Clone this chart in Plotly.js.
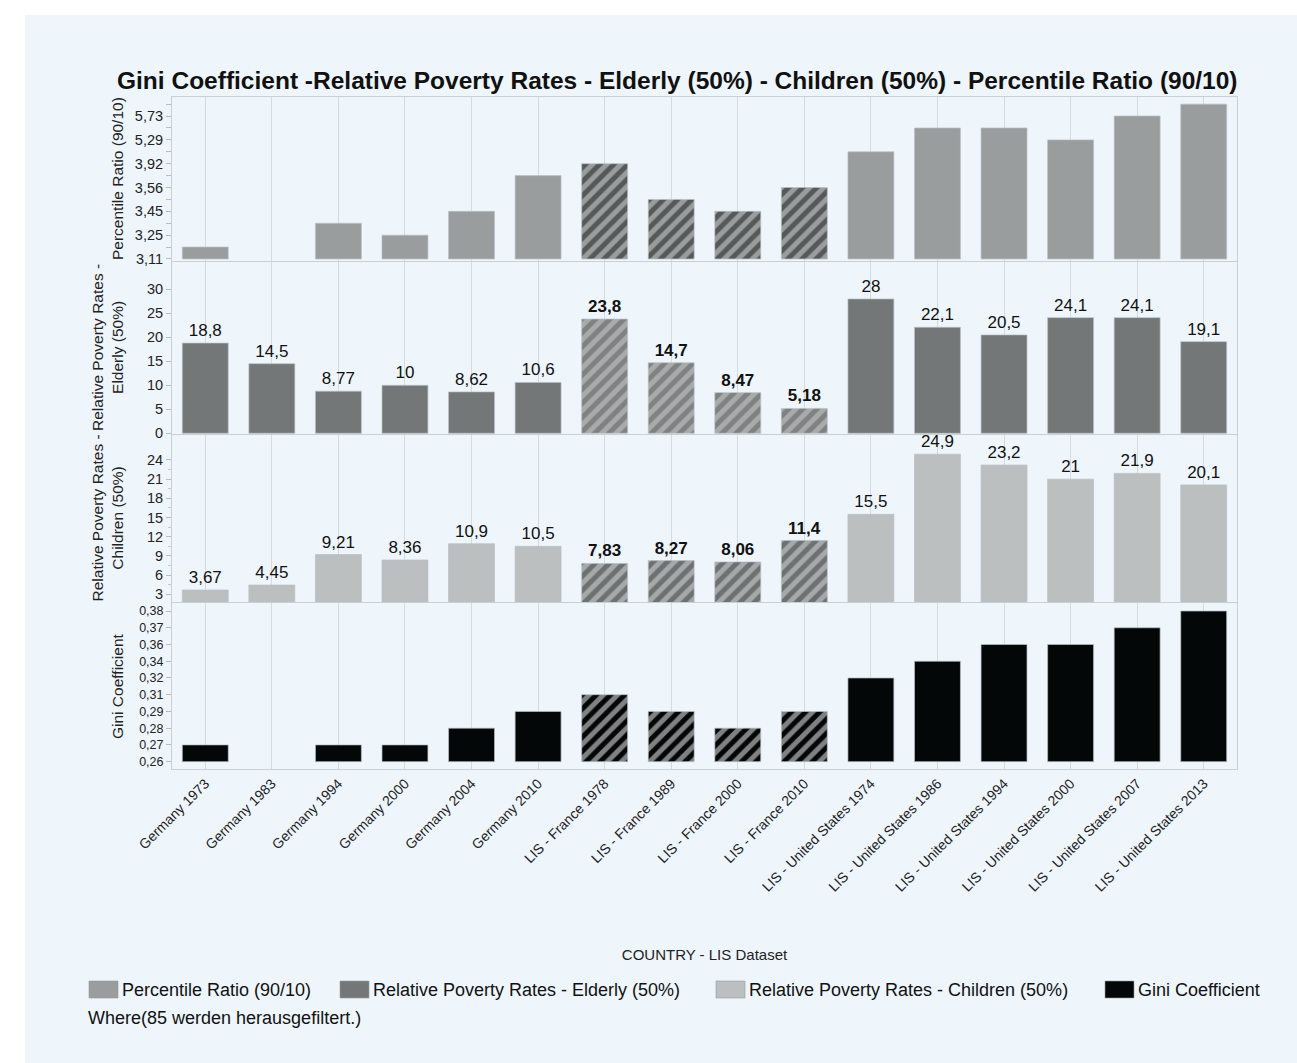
<!DOCTYPE html>
<html>
<head>
<meta charset="utf-8">
<script src="https://cdn.plot.ly/plotly-3.0.1.min.js"></script>
<style>
  html, body { margin: 0; padding: 0; background: #ffffff; }
  #chart { width: 1297px; height: 1063px; }
</style>
</head>
<body>
<div id="chart"></div>
<script>
// ---------------- DATA ----------------
const categories = [
  "Germany 1973", "Germany 1983", "Germany 1994", "Germany 2000", "Germany 2004", "Germany 2010",
  "LIS - France 1978", "LIS - France 1989", "LIS - France 2000", "LIS - France 2010",
  "LIS - United States 1974", "LIS - United States 1986", "LIS - United States 1994",
  "LIS - United States 2000", "LIS - United States 2007", "LIS - United States 2013"
];

// Percentile Ratio (90/10) — drawn on an ordinal (rank) value axis, like the source
const ratio9010 = [3.18, 3.11, 3.35, 3.25, 3.45, 3.75, 3.92, 3.50, 3.45, 3.56, 4.60, 5.50, 5.50, 5.29, 5.73, 6.04];
const ratioLevels = [3.11, 3.18, 3.25, 3.35, 3.45, 3.50, 3.56, 3.75, 3.92, 4.60, 5.29, 5.50, 5.73, 6.04];
const ratioTickText = ["3,11", "", "3,25", "", "3,45", "", "3,56", "", "3,92", "", "5,29", "", "5,73", ""];

// Relative Poverty Rates - Elderly (50%)
const elderly = [18.8, 14.5, 8.77, 10, 8.62, 10.6, 23.8, 14.7, 8.47, 5.18, 28, 22.1, 20.5, 24.1, 24.1, 19.1];
const elderlyTicks = [0, 5, 10, 15, 20, 25, 30];

// Relative Poverty Rates - Children (50%)
const children = [3.67, 4.45, 9.21, 8.36, 10.9, 10.5, 7.83, 8.27, 8.06, 11.4, 15.5, 24.9, 23.2, 21, 21.9, 20.1];
const childrenTicks = [3, 6, 9, 12, 15, 18, 21, 24];

// Gini Coefficient — ordinal value axis
const gini = [0.27, 0.26, 0.27, 0.27, 0.28, 0.29, 0.31, 0.29, 0.28, 0.29, 0.32, 0.34, 0.36, 0.36, 0.37, 0.38];
const giniLevels = [0.26, 0.27, 0.28, 0.29, 0.31, 0.32, 0.34, 0.36, 0.37, 0.38];
const giniTickText = ["0,26", "0,27", "0,28", "0,29", "0,31", "0,32", "0,34", "0,36", "0,37", "0,38"];

const seriesNames = [
  "Percentile Ratio (90/10)",
  "Relative Poverty Rates - Elderly (50%)",
  "Relative Poverty Rates - Children (50%)",
  "Gini Coefficient"
];

// ---------------- STYLE ----------------
const FONT = "Liberation Sans, Arial, Helvetica, sans-serif";
const solidColors = ["#9a9d9e", "#737777", "#bbbfc0", "#040707"];
const hatchBg = ["#9a9d9e", "#a9abab", "#a6a9aa", "#040707"];
const hatchFg = ["#55595a", "#7f8282", "#6e7172", "#7f8182"];
const isHatched = categories.map(c => c.indexOf("France") !== -1);

const W = 1297, H = 1063;
const ML = 172, MR = 60, MT = 97, MB = 294;
const PW = W - ML - MR, PH = H - MT - MB;
const px2x = p => (p - ML) / PW;
const px2y = p => (H - MB - p) / PH;

const fmt = v => String(v).replace(".", ",");
const rank = (levels, v) => levels.indexOf(v);

// one trace for the solid bars, one for the hatched (France) bars of each panel
function panelTraces(k, yvals, yaxis, rawVals, withLabels) {
  const out = [];
  [false, true].forEach(hatched => {
    const idx = categories.map((c, i) => i).filter(i => isHatched[i] === hatched);
    const ys = idx.map(i => yvals[i]);
    const t = {
      type: "bar",
      name: seriesNames[k],
      x: idx.map(i => categories[i]),
      y: ys,
      xaxis: "x",
      yaxis: yaxis,
      customdata: idx.map(i => fmt(rawVals[i])),
      hovertemplate: "%{x}<br>" + seriesNames[k] + ": %{customdata}<extra></extra>",
      marker: {
        color: hatched ? hatchBg[k] : solidColors[k],
        line: { color: "rgba(185,191,194,0.7)", width: ys.map(v => v === 0 ? 0 : 1) }
      },
      showlegend: false
    };
    if (hatched) {
      t.marker.pattern = {
        shape: "/", fillmode: "replace",
        bgcolor: hatchBg[k], fgcolor: hatchFg[k], fgopacity: 1,
        size: 10, solidity: 0.5
      };
    }
    if (withLabels) {
      t.text = idx.map(i => hatched ? "<b>" + fmt(rawVals[i]) + "</b>" : fmt(rawVals[i]));
      t.textposition = "outside";
      t.textfont = { family: FONT, size: 17, color: "#111111" };
      t.cliponaxis = false;
      t.constraintext = "none";
    }
    out.push(t);
  });
  return out;
}

const traces = [].concat(
  panelTraces(0, ratio9010.map(v => rank(ratioLevels, v)), "y", ratio9010, false),
  panelTraces(1, elderly, "y2", elderly, true),
  panelTraces(2, children, "y3", children, true),
  panelTraces(3, gini.map(v => rank(giniLevels, v)), "y4", gini, false)
);

const frame = "#c9d0d4";
const yCommon = {
  showgrid: false, zeroline: false, ticks: "outside", ticklen: 5, tickcolor: "#b5bcc0",
  showline: true, linecolor: frame, linewidth: 1, mirror: true,
  tickfont: { family: FONT, size: 14.5, color: "#222222" }, fixedrange: true
};

const dom = (top, bottom) => [px2y(bottom), px2y(top)];

const layout = {
  width: W, height: H,
  margin: { l: ML, r: MR, t: MT, b: MB, pad: 0 },
  paper_bgcolor: "#ffffff",
  plot_bgcolor: "rgba(0,0,0,0)",
  font: { family: FONT, color: "#222222" },
  barmode: "overlay",
  bargap: 0.31,
  showlegend: false,
  separators: ",.",
  title: {
    text: "<b>Gini Coefficient -Relative Poverty Rates - Elderly (50%) - Children (50%) - Percentile Ratio (90/10)</b>",
    x: 117 / W, xanchor: "left", xref: "container",
    y: 1 - 80 / H, yanchor: "middle", yref: "container",
    font: { family: FONT, size: 24.5, color: "#111111" }
  },
  xaxis: {
    type: "category", categoryorder: "array", categoryarray: categories,
    range: [-0.5, categories.length - 0.5],
    anchor: "y4",
    tickangle: -45, ticks: "",
    tickfont: { family: FONT, size: 14, color: "#222222" },
    showgrid: true, gridcolor: "#d4dadd", gridwidth: 1,
    showline: true, linecolor: frame, mirror: "all",
    fixedrange: true,
    title: { text: "COUNTRY - LIS Dataset", font: { family: FONT, size: 15, color: "#222222" }, standoff: 55 }
  },
  yaxis: Object.assign({}, yCommon, {
    domain: dom(97, 261), anchor: "x",
    range: [-0.17, 13.6],
    tickmode: "array", tickvals: ratioLevels.map((v, i) => i), ticktext: ratioTickText
  }),
  yaxis2: Object.assign({}, yCommon, {
    domain: dom(262, 434), anchor: "x",
    range: [-0.15, 35.7], tickmode: "array", tickvals: elderlyTicks, ticktext: elderlyTicks.map(String)
  }),
  yaxis3: Object.assign({}, yCommon, {
    domain: dom(435, 602), anchor: "x",
    range: [1.8, 27.9], tickmode: "array", tickvals: childrenTicks, ticktext: childrenTicks.map(String),
    minor: { tickvals: childrenTicks.map(v => v - 1.5), ticklen: 3, tickcolor: "#c2c8cb", ticks: "outside" }
  }),
  yaxis4: Object.assign({}, yCommon, {
    domain: dom(603, 769), anchor: "x",
    range: [-0.44, 9.48],
    tickmode: "array", tickvals: giniLevels.map((v, i) => i), ticktext: giniTickText,
    tickfont: { family: FONT, size: 12.5, color: "#222222" }
  }),
  shapes: [],
  annotations: []
};

// light blue background panel
layout.shapes.push({
  type: "rect", xref: "paper", yref: "paper", layer: "below",
  x0: px2x(25), x1: px2x(W), y0: px2y(H), y1: px2y(15),
  fillcolor: "#eef6fc", line: { width: 0 }
});

// y-axis titles
const yTitles = [
  { text: "Percentile Ratio (90/10)", ref: "y domain", cx: 117 },
  { text: "Relative Poverty Rates -<br>Elderly (50%)", ref: "y2 domain", cx: 107 },
  { text: "Relative Poverty Rates -<br>Children (50%)", ref: "y3 domain", cx: 107 },
  { text: "Gini Coefficient", ref: "y4 domain", cx: 117 }
];
yTitles.forEach(t => layout.annotations.push({
  text: t.text, textangle: -90, xref: "paper", yref: t.ref,
  x: px2x(t.cx), y: 0.5, xanchor: "center", yanchor: "middle",
  showarrow: false, font: { family: FONT, size: 15.5, color: "#222222" }
}));

// custom legend (swatch + label)
const legendX = [89, 340, 716, 1105];
seriesNames.forEach((name, k) => {
  layout.shapes.push({
    type: "rect", xref: "paper", yref: "paper",
    x0: px2x(legendX[k]), x1: px2x(legendX[k] + 29),
    y0: px2y(998), y1: px2y(981),
    fillcolor: solidColors[k], line: { color: "rgba(150,155,158,0.6)", width: 1 }
  });
  layout.annotations.push({
    text: name, xref: "paper", yref: "paper",
    x: px2x(legendX[k] + 31), y: px2y(990), xanchor: "left", yanchor: "middle",
    showarrow: false, font: { family: FONT, size: 18, color: "#111111" }
  });
});
layout.annotations.push({
  text: "Where(85 werden herausgefiltert.)", xref: "paper", yref: "paper",
  x: px2x(86), y: px2y(1018), xanchor: "left", yanchor: "middle",
  showarrow: false, font: { family: FONT, size: 18, color: "#111111" }
});

Plotly.newPlot("chart", traces, layout, { displayModeBar: false });
</script>
</body>
</html>
